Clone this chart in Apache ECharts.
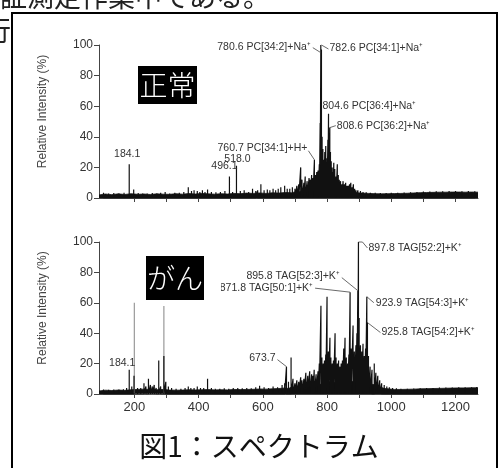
<!DOCTYPE html>
<html><head><meta charset="utf-8">
<script src="https://cdn.jsdelivr.net/npm/echarts@6/dist/echarts.min.js"></script>
<style>html,body{margin:0;padding:0;background:#fff}#c{width:499px;height:468px}</style>
</head><body><div id="c"></div>
<script>
// ---------- data ----------
const xTickValues = [200,300,400,500,600,700,800,900,1000,1100,1200];
const xLabelValues = [200,400,600,800,1000,1200];

// normal tissue (top) stick peaks [m/z, %]
const topPeaks = [
 [104,3.5],[120,3],[136,3.2],[152,3],[168,3.5],[184.1,22],[198,5.5],[212,3.2],[226,3],[240,3],
 [256,3.2],[270,3],[282,3.5],[296,4],[310,3],[326,3.5],[340,3.4],[354,4],[368,7],[378,4.5],
 [386,5],[396,4.5],[404,4],[412,5],[420,4],[428,5.5],[440,4],[454,3.8],[468,4],[482,4.5],
 [496.1,14],[506,4],[518.0,21],[530,4.5],[542,5],[556,4],[568,6],[578,4.5],[584,5],[594,9],
 [604,5],[614,5.5],[622,5],[632,6],[640,5],[648,6],[656,7],[668,8],[676,6],[684,6],[692,7],[700,6],
 [706,8],[712,9],[718,20],[722,12],[728,10],[732,14],[738,11],[744,13],[748,12],[752,15],[756,13],
 [760.7,25],[764,15],[768,17],[772,18],[776,22],[778.6,49],[780.6,100],[782.6,97],[784.6,40],[787,32],
 [790,25],[793,30],[796,34],[798,22],[800,26],[802.6,38],[804.6,55],[806.6,42],[808.6,46],[810.6,30],
 [813,24],[816,20],[818,17],[821,23],[824,19],[828,14],[832,22],[835,15],[838,12],[842,11],[846,9],
 [850,11],[854,9],[858,10],[862,8],[866,8],[870,9],[874,10],[878,7],[882,9],[886,6],[890,5],[896,5],
 [904,4.5],[912,4],[922,3.8],[935,3.5],[950,3.5],[966,3.2],[984,3.2],[1000,3.5],[1020,3.5],[1040,3.6],
 [1060,3.8],[1080,4],[1100,4.2],[1120,4.3],[1140,4.4],[1160,4.4],[1180,4.5],[1200,4.5],[1220,4.4],[1240,4.5],[1260,4.4]
];
const topNoise = [
 [90,2],[110,2.6],[130,2.2],[150,2.7],[170,2.3],[190,2.8],[210,2.4],[230,2.6],[250,2.3],[270,2.7],
 [290,2.5],[310,2.4],[330,2.8],[350,2.5],[370,2.9],[390,2.6],[410,3],[430,2.7],[450,2.5],[470,2.8],
 [490,2.6],[510,3],[530,2.8],[550,3.2],[570,3],[590,3.3],[610,3],[630,3.4],[650,3.2],[670,3.6],
 [690,3.4],[700,4],[710,3.6],[720,4.8],[730,4.2],[740,5.4],[750,4.8],[760,6],[770,5.5],[780,7],
 [790,6],[800,7.2],[810,5.8],[820,6.4],[830,5],[840,5.4],[850,4.2],[860,4.6],[870,3.8],[880,4],
 [890,3.4],[910,3.2],[930,3],[950,2.8],[970,2.7],[990,2.8],[1010,2.9],[1030,3],[1050,3.1],[1070,3.3],[1090,3.5],
 [1110,3.6],[1130,3.7],[1150,3.8],[1170,3.8],[1190,3.9],[1210,3.9],[1230,3.8],[1250,3.9],[1270,3.8]
];

// cancer tissue (bottom) stick peaks [m/z, %]
const bottomPeaks = [
 [104,3],[120,2.8],[136,3],[152,3],[166,3.2],[176,4],[184.1,16],[192,5],[199,12],[210,4],[220,4],
 [230,7],[236,5],[244,10],[250,6],[256,5],[262,6],[268,4],[276,22],[282,5],[292,25],[298,8],[306,5],
 [316,4],[330,3.5],[345,3.5],[358,4],[368,5],[376,4],[386,4],[396,5],[406,4],[416,4],[428,10],[440,4],
 [452,3.5],[466,3.5],[480,3.8],[494,3.5],[508,4],[522,4],[536,3.8],[550,4],[564,3.8],[578,4.5],[590,5.5],
 [604,4.5],[618,4],[632,5],[646,4.5],[660,6],[668,7],[673.7,18],[680,8],[688,24],[694,10],[700,7],
 [706,9],[712,8],[718,11],[722,9],[728,10],[734,14],[740,12],[746,15],[752,13],[756,12],[760,16],
 [766,13],[772,15],[776,20],[781,58],[784,24],[788,20],[792,22],[796,26],[800,64],[804,28],[809,37],
 [812,24],[816,20],[820,22],[825,40],[828,24],[832,20],[836,22],[840,18],[844,20],[848,22],[852,30],
 [856,37],[860,24],[864,20],[868,26],[871.8,67],[875,30],[881,45],[885,28],[890,32],[893,40],[895.8,68],
 [897.8,100],[900,50],[904,32],[908,28],[912,33],[916,25],[920,30],[923.9,64],[925.8,47],[929,25],
 [934,18],[940,16],[947,20],[952,14],[958,12],[964,9],[970,7],[978,6],[986,5],[994,4.5],[1004,4],
 [1016,3.8],[1030,3.5],[1050,3.5],[1070,3.6],[1090,3.8],[1110,4],[1130,4],[1150,4.2],[1170,4.3],
 [1190,4.3],[1210,4.4],[1230,4.5],[1250,4.5],[1266,4.6]
];
const bottomGrayPeaks = [[200,60],[292,60]];
const bottomNoise = [
 [90,2],[110,2.5],[130,2.3],[150,2.6],[170,2.4],[190,2.8],[210,3],[230,3.2],[250,3],[270,2.8],
 [290,3],[310,2.6],[330,2.5],[350,2.6],[370,2.8],[390,2.7],[410,2.8],[430,2.9],[450,2.7],[470,2.8],
 [490,2.7],[510,3],[530,2.9],[550,3],[570,3.1],[590,3.3],[610,3.2],[630,3.4],[650,3.6],[670,4],
 [680,3.6],[690,4.6],[700,4],[710,5.4],[720,4.6],[730,6],[740,5.2],[750,6.8],[760,5.8],[770,7.4],
 [780,6.4],[790,8],[800,7],[810,8.4],[820,7.2],[830,8.6],[840,7.6],[850,9],[860,7.8],[870,9.4],
 [880,8.2],[890,9.6],[900,8.4],[910,9],[920,7.6],[930,8],[940,6.4],[950,6],[960,4.6],[970,4.2],
 [980,3.6],[990,3.4],[1010,3],[1030,3],[1050,3.1],[1070,3.2],[1090,3.4],
 [1110,3.5],[1130,3.6],[1150,3.7],[1170,3.8],[1190,3.9],[1210,4],[1230,4],[1250,4.1],[1270,4.1]
];

// peak annotations
const topLabelMz = [184.1, 496.1, 518.0, 760.7, 780.6, 782.6, 804.6, 808.6];
const topLabelY  = [22, 14, 21, 25, 95, 100, 55, 46];
const topLabelText = ['184.1','496.1','518.0','760.7 PC[34:1]+H+','780.6 PC[34:2]+Na\u207A','782.6 PC[34:1]+Na\u207A','804.6 PC[36:4]+Na\u207A','808.6 PC[36:2]+Na\u207A'];
const bottomLabelMz = [184.1, 673.7, 871.8, 895.8, 897.8, 923.9, 925.8];
const bottomLabelY  = [16, 18, 67, 68, 100, 64, 47];
const bottomLabelText = ['184.1','673.7','871.8 TAG[50:1]+K\u207A','895.8 TAG[52:3]+K\u207A','897.8 TAG[52:2]+K\u207A','923.9 TAG[54:3]+K\u207A','925.8 TAG[54:2]+K\u207A'];

// ---------- layout (pixel offsets of annotation text / leaders) ----------
const topLayout = [
 {t:[-2,-10],a:'center'},
 {t:[-5,-10],a:'center'},
 {t:[1,-7],a:'center'},
 {lead:[[-6,-9]],t:[-7,-12],a:'right'},
 {lead:[[-8,-5]],t:[-10,-6],a:'right'},
 {lead:[[7,4]],t:[8,3],a:'left'},
 {t:[-6,-8],a:'left'},
 {lead:[[6,-2]],t:[7,-2],a:'left'}
];
const bottomLayout = [
 {t:[-7,-7],a:'center'},
 {lead:[[-9,-7]],t:[-11,-9],a:'right'},
 {lead:[[-35,-4]],t:[-37,-4],a:'right'},
 {lead:[[-16,-13]],t:[-18,-15],a:'right'},
 {lead:[[4,0],[9,6]],t:[10,6],a:'left'},
 {lead:[[7,6]],t:[9,6],a:'left'},
 {lead:[[13,10]],t:[14,10],a:'left'}
];

const FONT = '"Liberation Sans", Arial, Helvetica, sans-serif';
const JP = '"Noto Sans CJK JP", sans-serif';

function sticks(peaks){
  const out = [];
  peaks.slice().sort((a,b)=>a[0]-b[0]).forEach(p=>{ out.push([p[0],0],[p[0],p[1]],[p[0],0]); });
  return out;
}
function annot(idx, mz, ys, texts, layout){
  return {
    type:'custom', xAxisIndex:idx, yAxisIndex:idx, clip:false, silent:true, z:10,
    data: mz.map((m,i)=>[m, ys[i], i]),
    renderItem:(params, api)=>{
      const i = api.value(2);
      const p = api.coord([api.value(0), api.value(1)]);
      const L = layout[i];
      const ch = [];
      if (L.lead){
        const pts = [p].concat(L.lead.map(d=>[p[0]+d[0], p[1]+d[1]]));
        ch.push({type:'polyline', shape:{points:pts}, style:{stroke:'#444', lineWidth:0.8, fill:null}});
      }
      ch.push({type:'text', x:p[0]+L.t[0], y:p[1]+L.t[1],
        style:{text:texts[i], align:L.a, verticalAlign:'middle', fill:'#333', font:'10.5px '+FONT}});
      return {type:'group', children:ch};
    }
  };
}
function xAx(idx, labels){
  return {
    type:'value', gridIndex:idx, min:90, max:1270,
    axisLine:{show:true, lineStyle:{color:'#444', width:1}},
    axisTick:{show:true, length:4, lineStyle:{color:'#444'}, customValues:xTickValues},
    axisLabel:{show:labels, customValues:xLabelValues, color:'#333', fontSize:13, fontFamily:FONT, margin:7,
      formatter:v=>String(v)},
    splitLine:{show:false}
  };
}
function yAx(idx){
  return {
    type:'value', gridIndex:idx, min:0, max:100, interval:20,
    name:'Relative Intensity (%)', nameLocation:'middle', nameGap:50,
    nameTextStyle:{color:'#444', fontSize:12, fontFamily:FONT, padding:[0,0,0,20]},
    axisLine:{show:true, lineStyle:{color:'#444', width:1}},
    axisTick:{show:true, length:5, lineStyle:{color:'#444'}},
    axisLabel:{color:'#333', fontSize:12, fontFamily:FONT, margin:6},
    splitLine:{show:false}
  };
}
function noiseSeries(idx, data){
  return {type:'line', xAxisIndex:idx, yAxisIndex:idx, data, symbol:'none', silent:true,
    lineStyle:{color:'#111', width:0.8}, areaStyle:{color:'#111', opacity:1}, z:2};
}
function stickSeries(idx, peaks, color){
  return {type:'line', xAxisIndex:idx, yAxisIndex:idx, data:sticks(peaks), symbol:'none', silent:true,
    lineStyle:{color, width:1.2}, z:3};
}

const chart = echarts.init(document.getElementById('c'), null, {renderer:'canvas'});
chart.setOption({
  animation:false,
  backgroundColor:'#fff',
  grid:[
    {left:99, top:45, width:379, height:153},
    {left:99, top:242, width:379, height:152}
  ],
  xAxis:[xAx(0,false), xAx(1,true)],
  yAxis:[yAx(0), yAx(1)],
  series:[
    noiseSeries(0, topNoise),
    stickSeries(0, topPeaks, '#111'),
    annot(0, topLabelMz, topLabelY, topLabelText, topLayout),
    noiseSeries(1, bottomNoise),
    stickSeries(1, bottomGrayPeaks, '#999'),
    stickSeries(1, bottomPeaks, '#111'),
    annot(1, bottomLabelMz, bottomLabelY, bottomLabelText, bottomLayout)
  ],
  graphic:[
    {type:'text', z:100, x:0, y:-3, style:{text:'証測定作業中である。', font:'27px '+JP, fill:'#222', verticalAlign:'middle'}},
    {type:'text', z:100, x:-16, y:31, style:{text:'行', font:'27px '+JP, fill:'#222', verticalAlign:'middle'}},
    {type:'rect', z:101, shape:{x:12, y:13, width:485, height:480}, style:{fill:null, stroke:'#000', lineWidth:2}},
    {type:'rect', z:100, shape:{x:138, y:66, width:59, height:38}, style:{fill:'#000'}},
    {type:'text', z:101, x:167.5, y:85, style:{text:'正常', font:'300 28px '+JP, fill:'#fff', align:'center', verticalAlign:'middle'}},
    {type:'rect', z:99, shape:{x:140, y:250, width:81, height:56}, style:{fill:'#fff'}},
    {type:'rect', z:100, shape:{x:146, y:256, width:58, height:44}, style:{fill:'#000'}},
    {type:'text', z:101, x:175, y:278, style:{text:'がん', font:'300 28px '+JP, fill:'#fff', align:'center', verticalAlign:'middle'}},
    {type:'text', z:100, x:259, y:446, style:{text:'図1：スペクトラム', font:'28px '+JP, fill:'#111', align:'center', verticalAlign:'middle'}}
  ]
});
</script></body></html>
